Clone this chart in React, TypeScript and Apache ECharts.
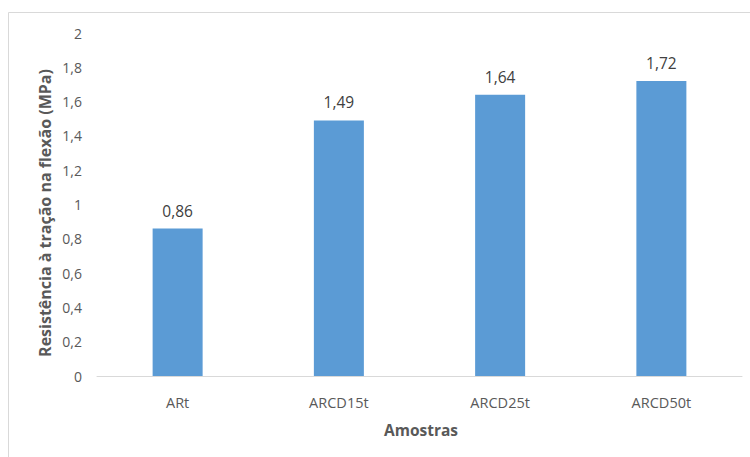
import React, { useEffect, useRef } from "react";
import * as echarts from "echarts";

const categories = ["ARt", "ARCD15t", "ARCD25t", "ARCD50t"];
const values = [0.86, 1.49, 1.64, 1.72];
const yTicks = { min: 0, max: 2, interval: 0.2 };
const yTitle = "Resistência à tração na flexão (MPa)";
const xTitle = "Amostras";

const fmt = (v: number) => String(Math.round(v * 100) / 100).replace(".", ",");

export default function App() {
  const ref = useRef<HTMLDivElement>(null);
  useEffect(() => {
    if (!ref.current) return;
    const chart = echarts.init(ref.current, undefined, { renderer: "svg" });
    const font = "'Open Sans', 'Noto Sans', sans-serif";
    chart.setOption({
      animation: false,
      backgroundColor: "#ffffff",
      textStyle: { fontFamily: font },
      graphic: [
        {
          type: "rect",
          shape: { x: 8.5, y: 12.5, width: 760, height: 460 },
          style: { fill: "none", stroke: "#d9d9d9", lineWidth: 1 },
          silent: true,
        },
        {
          type: "text",
          x: 45,
          y: 213,
          rotation: Math.PI / 2,
          style: {
            text: yTitle,
            fontFamily: font,
            fontSize: 16,
            fontWeight: "bold",
            fill: "#595959",
            align: "center",
            verticalAlign: "middle",
          },
        },
        {
          type: "text",
          x: 421,
          y: 430,
          style: {
            text: xTitle,
            fontFamily: font,
            fontSize: 15.5,
            fontWeight: "bold",
            fill: "#595959",
            align: "center",
            verticalAlign: "middle",
          },
        },
      ],
      grid: { left: 97, right: 8, top: 33, bottom: 81 },
      xAxis: {
        type: "category",
        data: categories,
        axisLine: { lineStyle: { color: "#d9d9d9", width: 1 } },
        axisTick: { show: false },
        axisLabel: { color: "#595959", fontSize: 14.5, margin: 19, fontFamily: font },
      },
      yAxis: {
        type: "value",
        min: yTicks.min,
        max: yTicks.max,
        interval: yTicks.interval,
        splitLine: { show: false },
        axisLine: { show: false },
        axisTick: { show: false },
        axisLabel: {
          color: "#595959",
          fontSize: 14,
          margin: 15,
          fontFamily: font,
          formatter: (v: number) => fmt(v),
        },
      },
      series: [
        {
          type: "bar",
          data: values,
          barWidth: 50,
          itemStyle: { color: "#5b9bd5" },
          label: {
            show: true,
            position: "top",
            distance: 10,
            color: "#404040",
            fontSize: 15.5,
            fontFamily: font,
            formatter: (p: any) => fmt(p.value),
          },
        },
      ],
    });
    return () => chart.dispose();
  }, []);
  return <div ref={ref} style={{ width: 750, height: 457, position: "absolute", left: 0, top: 0 }} />;
}
